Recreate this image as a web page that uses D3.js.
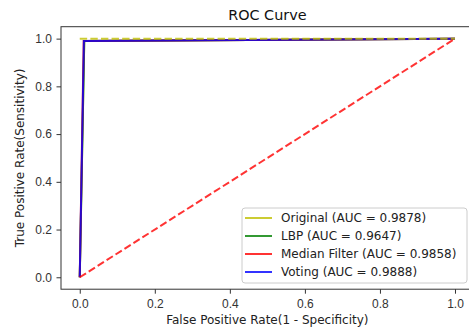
<!DOCTYPE html>
<html>
<head>
<meta charset="utf-8">
<script src="https://cdn.jsdelivr.net/npm/d3@7"></script>
<style>
  body { margin: 0; background: #fff; }
  svg { display: block; font-family: "DejaVu Sans", sans-serif; }
  .axis path, .axis line { stroke: #333; }
  .axis text { fill: #333; font-size: 12px; }
</style>
</head>
<body>
<div id="chart"></div>
<script>
// valores
const xTicks = [0, 0.2, 0.4, 0.6, 0.8, 1.0];
const yTicks = [0, 0.2, 0.4, 0.6, 0.8, 1.0];

const seriesNames = ["Original", "LBP", "Median Filter", "Voting"];
const seriesAuc = [0.9878, 0.9647, 0.9858, 0.9888];
const seriesColors = ["#bfbf00", "#008000", "#ff0000", "#0000ff"];

const fprOriginal = [0, 0.012, 1];
const tprOriginal = [0, 0.99, 1];
const fprLbp = [0, 0.012, 1];
const tprLbp = [0, 0.99, 1];
const fprMedian = [0, 0.0105, 1];
const tprMedian = [0, 0.99, 1];
const fprVoting = [0, 0.011, 1];
const tprVoting = [0, 0.99, 1];

// linhas de referência (tracejadas)
const perfectX = [0, 1];
const perfectY = [1, 1];
const chanceX = [0, 1];
const chanceY = [0, 1];

const width = 469, height = 331;
const margin = { top: 26.7, left: 61 };
const plotW = 412.75, plotH = 262.5;

const svg = d3.select("#chart").append("svg")
    .attr("width", width)
    .attr("height", height);

const x = d3.scaleLinear().domain([-0.05, 1.05]).range([margin.left, margin.left + plotW]);
const y = d3.scaleLinear().domain([-0.05, 1.05]).range([margin.top + plotH, margin.top]);

const line = d3.line().x(d => x(d[0])).y(d => y(d[1]));
const pairs = (xs, ys) => xs.map((v, i) => [v, ys[i]]);

const curves = [
    pairs(fprOriginal, tprOriginal),
    pairs(fprLbp, tprLbp),
    pairs(fprMedian, tprMedian),
    pairs(fprVoting, tprVoting)
];

// Curvas
svg.append("g")
    .selectAll("path")
    .data(curves)
    .join("path")
    .attr("d", line)
    .attr("fill", "none")
    .attr("stroke", (d, i) => seriesColors[i])
    .attr("stroke-opacity", 0.8)
    .attr("stroke-width", 2);

svg.append("path")
    .attr("d", line(pairs(perfectX, perfectY)))
    .attr("fill", "none")
    .attr("stroke", "#bfbf00")
    .attr("stroke-opacity", 0.8)
    .attr("stroke-width", 2)
    .attr("stroke-dasharray", "7.4,3.2");

svg.append("path")
    .attr("d", line(pairs(chanceX, chanceY)))
    .attr("fill", "none")
    .attr("stroke", "#ff0000")
    .attr("stroke-opacity", 0.8)
    .attr("stroke-width", 2)
    .attr("stroke-dasharray", "7.4,3.2");

// Moldura
svg.append("rect")
    .attr("x", margin.left)
    .attr("y", margin.top)
    .attr("width", plotW)
    .attr("height", plotH)
    .attr("fill", "none")
    .attr("stroke", "#333")
    .attr("stroke-width", 1);

// Eixos
svg.append("g")
    .attr("class", "axis")
    .attr("transform", `translate(0,${margin.top + plotH})`)
    .call(d3.axisBottom(x).tickValues(xTicks).tickFormat(d3.format(".1f")).tickSize(4.5).tickPadding(6).tickSizeOuter(0))
    .call(g => g.select(".domain").remove());

svg.append("g")
    .attr("class", "axis")
    .attr("transform", `translate(${margin.left},0)`)
    .call(d3.axisLeft(y).tickValues(yTicks).tickFormat(d3.format(".1f")).tickSize(4.5).tickPadding(4.5).tickSizeOuter(0))
    .call(g => g.select(".domain").remove());

// Títulos
svg.append("text")
    .attr("x", margin.left + plotW / 2)
    .attr("y", 20)
    .attr("text-anchor", "middle")
    .attr("font-size", 14.4)
    .attr("fill", "#111")
    .text("ROC Curve");

svg.append("text")
    .attr("x", margin.left + plotW / 2)
    .attr("y", 324)
    .attr("text-anchor", "middle")
    .attr("font-size", 12)
    .attr("fill", "#222")
    .text("False Positive Rate(1 - Specificity)");

svg.append("text")
    .attr("transform", `translate(23.5,${margin.top + plotH / 2}) rotate(-90)`)
    .attr("text-anchor", "middle")
    .attr("font-size", 12)
    .attr("fill", "#222")
    .text("True Positive Rate(Sensitivity)");

// Legenda
const legend = svg.append("g").attr("transform", "translate(242,208)");
legend.append("rect")
    .attr("width", 225)
    .attr("height", 75)
    .attr("rx", 3)
    .attr("fill", "#fff")
    .attr("fill-opacity", 0.8)
    .attr("stroke", "#ccc");

const items = legend.selectAll("g.item")
    .data(seriesNames)
    .join("g")
    .attr("class", "item")
    .attr("transform", (d, i) => `translate(0,${10 + i * 18})`);

items.append("line")
    .attr("x1", 3).attr("x2", 30)
    .attr("stroke", (d, i) => seriesColors[i])
    .attr("stroke-opacity", 0.8)
    .attr("stroke-width", 2);

items.append("text")
    .attr("x", 39)
    .attr("dy", "0.35em")
    .attr("font-size", 12)
    .attr("fill", "#222")
    .text((d, i) => `${d} (AUC = ${seriesAuc[i].toFixed(4)})`);
</script>
</body>
</html>
